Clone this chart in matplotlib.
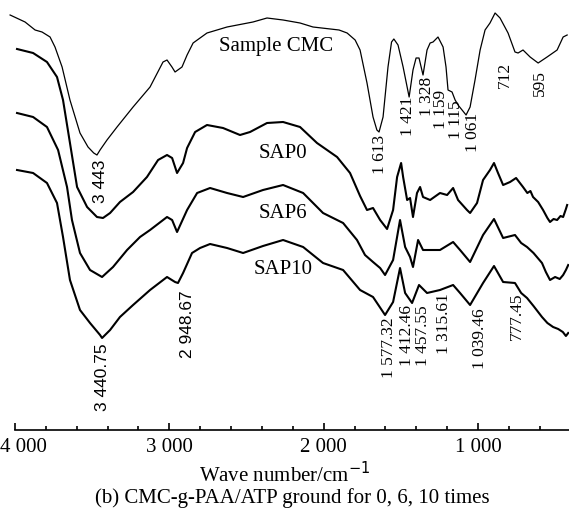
import matplotlib
matplotlib.use("Agg")
import matplotlib.pyplot as plt
from matplotlib.ticker import FixedLocator, FuncFormatter

# FT-IR spectra, transmittance in arbitrary units (curves offset as in the figure)
cmc_wn = [4032, 3935, 3870, 3825, 3773, 3741, 3695, 3644, 3579, 3527, 3490, 3469, 3449,
          3404, 3339, 3235, 3125, 3041, 3015, 2983, 2963, 2918, 2885, 2846, 2756,
          2626, 2458, 2367, 2263, 2153, 2069, 1900, 1848, 1796, 1764, 1719, 1680, 1655,
          1641, 1615, 1583, 1560, 1545, 1518, 1485, 1446, 1421, 1401, 1382, 1356, 1330, 1310,
          1291, 1259, 1226, 1207, 1194, 1168, 1148, 1129, 1103, 1077, 1051, 1019,
          986, 954, 922, 889, 857, 805, 760, 740, 708, 662, 610, 552, 487, 448, 422]
cmc_t = [425, 418, 410, 408, 403, 393, 373, 340, 307, 293, 287, 285, 290,
         300, 313, 333, 353, 378, 380, 373, 368, 373, 385, 397, 407,
         413, 418, 422, 420, 417, 413, 410, 407, 400, 390, 357, 323, 310,
         308, 323, 373, 398, 401, 395, 373, 343, 370, 382, 382, 365, 390, 397,
         398, 403, 393, 373, 350, 348, 340, 335, 330, 325, 333, 360,
         390, 410, 417, 427, 422, 407, 388, 387, 390, 383, 377, 383, 390, 403, 405]

sap0_wn = [3987, 3883, 3793, 3728, 3689, 3644, 3598, 3533, 3469, 3430, 3384, 3320,
           3235, 3145, 3073, 3015, 2982, 2950, 2911, 2885, 2833, 2756, 2652, 2542,
           2477, 2367, 2263, 2153, 2043, 1913, 1829, 1764, 1719, 1680, 1634, 1589,
           1550, 1524, 1498, 1485, 1459, 1440, 1421, 1395, 1375, 1356, 1310, 1246,
           1200, 1161, 1129, 1071, 1051, 1006, 967, 922, 896, 870, 837, 792, 753,
           708, 680, 660, 643, 610, 578, 550, 533, 510, 487, 465, 448, 430, 422]
sap0_t = [391, 387, 378, 363, 340, 297, 253, 233, 223, 222, 227, 238,
          248, 263, 280, 285, 282, 267, 277, 292, 308, 315, 312, 305,
          308, 317, 318, 313, 297, 283, 267, 244, 230, 232, 220, 211,
          230, 263, 277, 263, 240, 242, 223, 247, 253, 243, 240, 247,
          245, 252, 240, 230, 227, 237, 260, 270, 277, 267, 255, 258, 262,
          253, 247, 249, 243, 238, 230, 222, 218, 221, 220, 224, 223, 231, 235]

sap6_wn = [3987, 3883, 3793, 3721, 3663, 3631, 3579, 3514, 3436, 3365, 3274, 3190,
           3125, 3015, 2982, 2950, 2885, 2820, 2736, 2626, 2522, 2393, 2263, 2133,
           2004, 1874, 1784, 1732, 1680, 1634, 1602, 1550, 1505, 1472, 1440, 1421,
           1388, 1356, 1246, 1161, 1116, 1051, 967, 896, 837, 760, 720, 682, 640, 585,
           560, 533, 500, 470, 448, 430, 415]
sap6_t = [327, 323, 313, 290, 253, 220, 187, 170, 163, 173, 190, 203,
          210, 223, 220, 208, 230, 247, 252, 247, 243, 250, 255, 247,
          227, 217, 200, 185, 178, 172, 165, 180, 220, 193, 183, 173,
          200, 190, 190, 198, 190, 178, 205, 221, 202, 205, 197, 193, 187, 177,
          168, 160, 163, 161, 165, 170, 175]

sap10_wn = [3987, 3883, 3793, 3728, 3689, 3644, 3579, 3514, 3449, 3436, 3384, 3320,
            3235, 3125, 3015, 2963, 2944, 2911, 2853, 2801, 2736, 2626, 2522, 2393,
            2263, 2133, 2004, 1874, 1764, 1680, 1602, 1550, 1505, 1472, 1427, 1382,
            1330, 1246, 1161, 1116, 1051, 967, 896, 837, 760, 720, 682, 640, 585, 550,
            513, 480, 450, 430, 415]
sap10_t = [270, 267, 257, 237, 203, 160, 130, 117, 105, 102, 110, 123,
           135, 150, 163, 158, 157, 167, 187, 192, 196, 192, 187, 194,
           200, 193, 177, 170, 150, 143, 125, 138, 172, 147, 137, 155,
           147, 150, 155, 147, 135, 157, 174, 158, 157, 147, 142, 134, 123, 117,
           113, 111, 108, 104, 107]

# peak labels: text, wavenumber, top of text, font
cmc_peaks = [("3 443", 3449, 280, "sans"), ("1 613", 1634, 305, "serif"),
             ("1 421", 1453, 343, "serif"), ("1 328", 1330, 363, "serif"),
             ("1 159", 1240, 350, "serif"), ("1 115", 1140, 340, "serif"),
             ("1 061", 1032, 327, "serif"), ("712", 824, 378, "serif"),
             ("595", 597, 370, "serif")]
sap10_peaks = [("3 440.75", 3436, 97, "sans"), ("2 948.67", 2885, 150, "sans"),
               ("1 577.32", 1575, 123, "serif"), ("1 412.46", 1462, 135, "serif"),
               ("1 457.55", 1358, 135, "serif"), ("1 315.61", 1222, 147, "serif"),
               ("1 039.46", 986, 132, "serif"), ("777.45", 747, 147, "serif")]

serif = ["Liberation Serif", "DejaVu Serif"]
sans = ["Liberation Sans", "DejaVu Sans"]

W, H = 569, 519
fig = plt.figure(figsize=(W / 100, H / 100), dpi=100)
ax = fig.add_axes([5 / W, (H - 430) / H, 564 / W, 430 / H])

ax.plot(cmc_wn, cmc_t, color="black", lw=0.9)
ax.plot(sap0_wn, sap0_t, color="black", lw=1.5)
ax.plot(sap6_wn, sap6_t, color="black", lw=1.5)
ax.plot(sap10_wn, sap10_t, color="black", lw=1.5)

ax.set_xlim(4065, 410)
ax.set_ylim(10, 440)

for txt, wn, top, fam in cmc_peaks + sap10_peaks:
    ax.text(wn, top, txt, rotation=90, ha="center", va="top", fontsize=12.5,
            family=serif if fam == "serif" else sans)

ax.text(2308, 393, "Sample CMC", ha="center", va="center", fontsize=15, family=serif)
ax.text(2263, 287, "SAP0", ha="center", va="center", fontsize=15, family=serif)
ax.text(2263, 227, "SAP6", ha="center", va="center", fontsize=15, family=serif)
ax.text(2263, 170, "SAP10", ha="center", va="center", fontsize=15, family=serif)

for s in ["left", "right", "top"]:
    ax.spines[s].set_visible(False)
ax.spines["bottom"].set_bounds(4000, 410)
ax.spines["bottom"].set_linewidth(1.2)
ax.set_yticks([])
ax.xaxis.set_major_locator(FixedLocator([4000, 3000, 2000, 1000]))
ax.xaxis.set_minor_locator(FixedLocator([3800, 3600, 3400, 3200, 2800, 2600, 2400, 2200,
                                         1800, 1600, 1400, 1200, 800, 600]))
# the 4 000 label is drawn separately so it stays inside the picture
ax.xaxis.set_major_formatter(FuncFormatter(
    lambda v, p: "" if v >= 4000 else f"{int(v):,}".replace(",", " ")))
ax.tick_params(axis="x", which="major", direction="in", length=5, width=1.2, pad=6)
ax.tick_params(axis="x", which="minor", direction="in", length=3, width=1.2)
for lab in ax.get_xticklabels():
    lab.set_family(serif)
    lab.set_fontsize(15)

fig.text(0, 1 - 448 / H, "4 000", ha="left", va="center", fontsize=15, family=serif)
fig.text(285 / W, 1 - 475 / H, "Wave number/cm$^{-1}$", ha="center", va="center",
         fontsize=15, family=serif)
fig.text(292 / W, 1 - 498 / H, "(b) CMC-g-PAA/ATP ground for 0, 6, 10 times",
         ha="center", va="center", fontsize=15, family=serif)

fig.savefig("out.png", dpi=100)
